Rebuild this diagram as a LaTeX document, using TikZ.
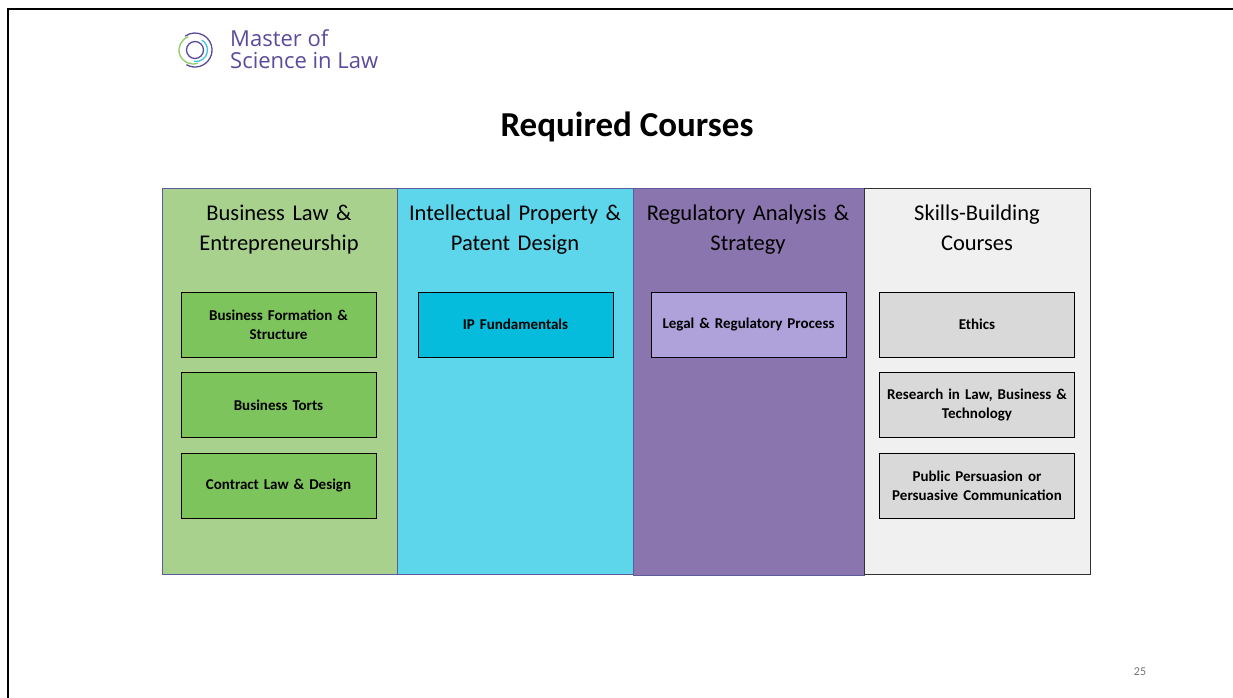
\documentclass[tikz,border=0pt]{standalone}
\usepackage{fontspec}
\setmainfont{Carlito}
\newfontfamily\logofont{Open Sans}
\usepackage{tikz}
\usetikzlibrary{positioning}
\definecolor{colgreen}{HTML}{A9D18E}
\definecolor{colcyan}{HTML}{5DD5EB}
\definecolor{colpurple}{HTML}{8B75AE}
\definecolor{colgray}{HTML}{F0F0F0}
\definecolor{boxgreen}{HTML}{7EC45C}
\definecolor{boxcyan}{HTML}{06BCDC}
\definecolor{boxpurple}{HTML}{AFA2DB}
\definecolor{boxgray}{HTML}{D9D9D9}
\definecolor{edgepurple}{HTML}{5E5A9E}
\definecolor{logopurple}{HTML}{5A4C9C}
\definecolor{logogreen}{HTML}{8FCB6A}
\definecolor{logocyan}{HTML}{3EC6DE}

\begin{document}
\begin{tikzpicture}[
    x=1pt, y=-1pt,
    track/.style={
        draw=edgepurple,
        line width=0.8pt,
        anchor=north west,
        minimum width=235pt,
        minimum height=386pt,
        inner sep=0pt},
    heading/.style={
        anchor=base,
        text width=232pt,
        align=center,
        font=\fontsize{22.5}{30}\selectfont},
    course/.style={
        draw=black,
        line width=0.6pt,
        minimum width=195pt,
        minimum height=65pt,
        text width=192pt,
        align=center,
        inner sep=0pt,
        font=\bfseries\fontsize{15}{19}\selectfont},
    ring/.style={line width=1.3pt},
  ]
  \useasboundingbox (0,0) rectangle (1233,698);
  % slide frame
  \draw[line width=2pt] (8,698) -- (8,9) -- (1233,9);

  % Logo
  \draw[ring, logopurple] (195,50) circle (8.5);
  \draw[ring, logopurple] (195,50) ++(120:17) arc (120:-125:17);
  \draw[ring, logogreen] (193,50) ++(70:14) arc (70:250:14);
  \draw[ring, logocyan] (196,50) ++(100:11.5) arc (100:-60:11.5);
  \node[anchor=west, align=left, text=logopurple, inner sep=0pt,
        font=\logofont\fontsize{22}{22}\selectfont] (logo) at (230,49)
        {Master of\\Science in Law};

  % Title
  \node[font=\bfseries\fontsize{35}{40}\selectfont] (title) at (627,127) {Required Courses};

  % Tracks
  \node[track, fill=colgreen] (business) at (162,188) {};
  \node[track, fill=colcyan, minimum width=236pt] (ip) at (397,188) {};
  \node[track, fill=colpurple, minimum width=231pt, minimum height=387pt] (regulatory) at (633,188) {};
  \node[track, fill=colgray, draw=black!80, minimum width=226pt] (skills) at (864,188) {};

  % Headings
  \node[heading] (businesshead) at (279,220) {Business Law \&\\Entrepreneurship};
  \node[heading] (iphead) at (515,220) {Intellectual Property \&\\Patent Design};
  \node[heading] (regulatoryhead) at (748,220) {Regulatory Analysis \&\\Strategy};
  \node[heading] (skillshead) at (977,220) {Skills-Building\\Courses};

  % Courses
  \node[course, fill=boxgreen] (formation) at (278.5,324.5) {Business Formation \&\\Structure};
  \node[course, fill=boxgreen, below=15pt of formation] (torts) {Business Torts};
  \node[course, fill=boxgreen, below=15pt of torts] (contract) {Contract Law \& Design};

  \node[course, fill=boxcyan] (ipfund) at (515.5,324.5) {IP Fundamentals};

  \node[course, fill=boxpurple] (process) at (748.5,324.5) {Legal \& Regulatory Process};

  \node[course, fill=boxgray] (ethics) at (977,324.5) {Ethics};
  \node[course, fill=boxgray, below=15pt of ethics] (research) {Research in Law, Business \&\\Technology};
  \node[course, fill=boxgray, below=15pt of research] (persuasion) {Public Persuasion or\\Persuasive Communication};

  % Page number
  \node[text=black!55, font=\fontsize{12}{13}\selectfont] (page) at (1140,672) {25};
\end{tikzpicture}
\end{document}
